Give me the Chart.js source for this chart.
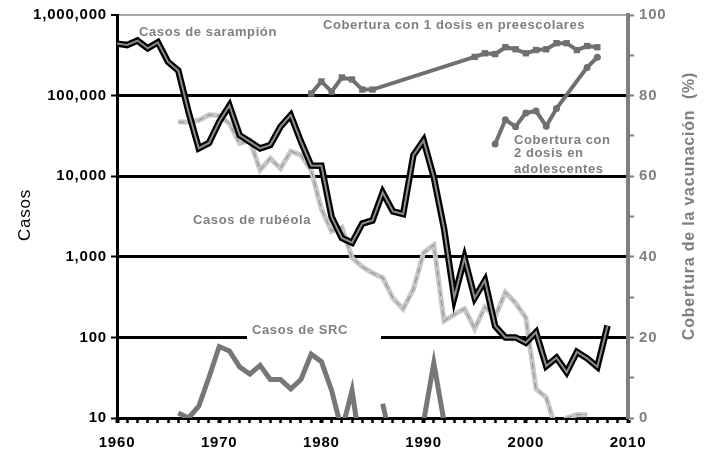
<!DOCTYPE html>
<html>
<head>
<meta charset="utf-8">
<script src="https://cdn.jsdelivr.net/npm/chart.js@4/dist/chart.umd.min.js"></script>
<style>
  html, body { margin: 0; padding: 0; background: #fff; }
  #wrap { width: 710px; height: 455px; position: relative; }
</style>
</head>
<body>
<div id="wrap"><canvas id="chart"></canvas></div>
<script>
// datos (cada serie empieza en su año inicial)
const sarampionInicio = 1960;
const sarampion = [441703, 423919, 481530, 385156, 458083, 261904, 204136, 62705, 22231, 25826,
  47351, 75290, 32275, 26690, 22094, 24374, 41126, 57345, 26871, 13597,
  13506, 3124, 1714, 1497, 2587, 2822, 6282, 3655, 3396, 18193,
  27786, 9643, 2237, 312, 963, 309, 508, 138, 100, 100,
  86, 116, 44, 56, 37, 66, 55, 43, 140];

const rubeolaInicio = 1966;
const rubeola = [46975, 46888, 49371, 57686, 56552, 45086, 25507, 27804, 11917, 16652,
  12491, 20395, 18269, 11795, 3904, 2077, 2325, 970, 752, 630,
  551, 306, 225, 396, 1125, 1401, 160, 192, 227, 128,
  238, 181, 364, 267, 176, 23, 18, 7, 10, 11, 11];

const srcInicio = 1966;
const src = [11.5, 10, 14, 32, 77, 68, 43, 35, 45, 30,
  30, 23, 30, 62, 50, 22, 7, 22, 3, null,
  15, 4, 3, 3, 9, 48, 9, 4, 6, 5,
  4, 5, 7, 9, 9];

const dosis1Inicio = 1979;
const dosis1 = [80.5, 83.5, 81, 84.5, 84, 81.5, 81.5,
  null, null, null, null, null, null, null, null, null,
  89.6, 90.5, 90.3, 92, 91.5, 90.5, 91.3, 91.5, 93, 93, 91.3, 92.3, 92];

const dosis2Inicio = 1997;
const dosis2 = [68, 74, 72.3, 75.7, 76.2, 72.4, 76.8, null, null, 87, 89.5];

const ticksCasos = [10, 100, 1000, 10000, 100000, 1000000];

function serie(inicio, valores) {
  return valores.map((v, i) => ({ x: inicio + i, y: v }));
}

const GRIS = '#7f7f7f';
const FUENTE = "'Liberation Sans', Arial, sans-serif";
const ESPACIO = '0.8px';

const espaciado = {
  id: 'espaciado',
  beforeLayout(chart) { chart.ctx.letterSpacing = ESPACIO; },
  beforeDraw(chart) { chart.ctx.letterSpacing = ESPACIO; }
};

const textos = {
  id: 'textos',
  beforeDatasetsDraw(chart) {
    const ctx = chart.ctx;
    ctx.save();
    // hueco en la línea de 100 para la etiqueta de SRC
    ctx.fillStyle = '#fff';
    ctx.fillRect(247, 325, 134, 22);
    ctx.restore();
  },
  afterDraw(chart) {
    const ctx = chart.ctx;
    ctx.save();
    ctx.letterSpacing = '0.6px';
    ctx.fillStyle = GRIS;
    ctx.font = 'bold 13px ' + FUENTE;
    ctx.textAlign = 'left';
    ctx.textBaseline = 'middle';
    ctx.fillText('Casos de sarampión', 139, 32);
    ctx.fillText('Cobertura con 1 dosis en preescolares', 323, 25);
    ctx.fillText('Casos de rubéola', 193, 220);
    ctx.fillText('Casos de SRC', 252, 330);
    ctx.textBaseline = 'alphabetic';
    ctx.fillText('Cobertura con', 514, 144);
    ctx.fillText('2 dosis en', 514, 157);
    ctx.fillText('adolescentes', 514, 173);

    ctx.letterSpacing = ESPACIO;
    ctx.textAlign = 'center';
    ctx.textBaseline = 'middle';
    ctx.save();
    ctx.translate(25, 215);
    ctx.rotate(-Math.PI / 2);
    ctx.fillStyle = '#000';
    ctx.font = '17px ' + FUENTE;
    ctx.fillText('Casos', 0, 0);
    ctx.restore();

    ctx.translate(690, 206);
    ctx.rotate(-Math.PI / 2);
    ctx.fillStyle = GRIS;
    ctx.font = 'bold 16px ' + FUENTE;
    ctx.fillText('Cobertura de la vacunación  (%)', 0, 0);
    ctx.restore();
  }
};

const bordeAbajo = { left: 6, right: 6, top: 6, bottom: 0 };

new Chart(document.getElementById('chart'), {
  type: 'line',
  data: {
    datasets: [
      { data: serie(sarampionInicio, sarampion), borderColor: '#8c8c8c', borderWidth: 2, yAxisID: 'yCasos', clip: bordeAbajo },
      { data: serie(sarampionInicio, sarampion), borderColor: '#000', borderWidth: 6.5, yAxisID: 'yCasos', clip: bordeAbajo },
      { data: serie(rubeolaInicio, rubeola), borderColor: '#8a8a8a', borderWidth: 1, borderDash: [6, 4], yAxisID: 'yCasos', clip: bordeAbajo },
      { data: serie(rubeolaInicio, rubeola), borderColor: '#c6c6c6', borderWidth: 5, yAxisID: 'yCasos', clip: bordeAbajo },
      { data: serie(srcInicio, src), borderColor: '#777', borderWidth: 5, yAxisID: 'yCasos', clip: bordeAbajo },
      { data: serie(dosis1Inicio, dosis1), borderColor: '#707070', borderWidth: 4, spanGaps: true,
        pointStyle: 'rect', pointRadius: 4.5, pointBackgroundColor: '#707070', pointBorderWidth: 0, yAxisID: 'yCob' },
      { data: serie(dosis2Inicio, dosis2), borderColor: '#707070', borderWidth: 4, spanGaps: true,
        pointStyle: 'circle', pointRadius: 3.5, pointBackgroundColor: '#707070', pointBorderWidth: 0, yAxisID: 'yCob' }
    ]
  },
  options: {
    responsive: true,
    maintainAspectRatio: false,
    animation: false,
    layout: { padding: { top: 15, left: 0, right: 0, bottom: 0 } },
    elements: {
      line: { tension: 0, borderJoinStyle: 'miter', borderCapStyle: 'butt' },
      point: { radius: 0, hoverRadius: 0 }
    },
    plugins: { legend: { display: false }, tooltip: { enabled: false } },
    scales: {
      x: {
        type: 'linear', position: 'bottom', min: 1960, max: 2010,
        ticks: {
          stepSize: 1, autoSkip: false, maxRotation: 0, padding: 11,
          color: '#000', font: { family: FUENTE, size: 15, weight: 'bold' },
          callback: v => (v % 10 === 0 ? String(v) : '')
        },
        grid: {
          drawOnChartArea: false, tickLength: 5, tickColor: '#000',
          tickWidth: c => (c.tick && c.tick.value % 10 === 0 ? 4 : 2.5)
        },
        border: { color: '#000', width: 3 },
        afterFit: s => { s.height = 37; }
      },
      yCasos: {
        type: 'logarithmic', position: 'left', min: 10, max: 1000000,
        afterBuildTicks: s => { s.ticks = ticksCasos.map(v => ({ value: v })); },
        ticks: {
          padding: 4, color: '#000', font: { family: FUENTE, size: 15, weight: 'bold' },
          callback: v => Number(v).toLocaleString('en-US')
        },
        grid: {
          color: c => (c.tick && c.tick.value === 1000000 ? '#a6a6a6' : (c.tick && c.tick.value === 10 ? 'rgba(0,0,0,0)' : '#000')),
          lineWidth: c => (c.tick && c.tick.value === 1000000 ? 2 : 3),
          tickLength: 6, tickColor: '#000', tickWidth: 2
        },
        border: { color: '#000', width: 3 },
        afterFit: s => { s.width = 117; }
      },
      yCob: {
        type: 'linear', position: 'right', min: 0, max: 100,
        ticks: {
          stepSize: 10, padding: 5, color: GRIS, font: { family: FUENTE, size: 15, weight: 'bold' },
          callback: v => (v % 20 === 0 ? String(v) : '')
        },
        grid: { drawOnChartArea: false, tickLength: 6, tickColor: GRIS, tickWidth: 2 },
        border: { color: GRIS, width: 4 },
        afterFit: s => { s.width = 82; }
      }
    }
  },
  plugins: [espaciado, textos]
});
</script>
</body>
</html>
